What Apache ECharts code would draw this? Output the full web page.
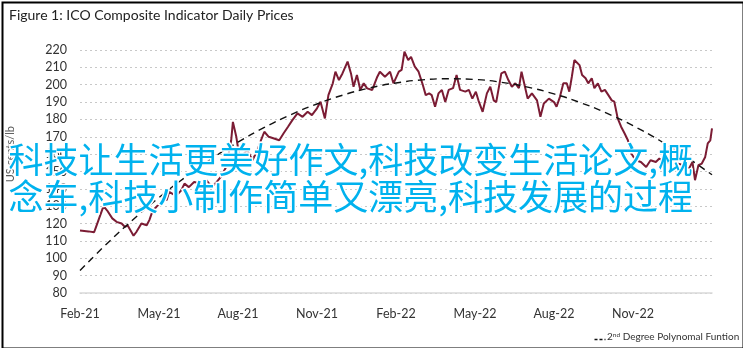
<!DOCTYPE html>
<html>
<head>
<meta charset="utf-8">
<script src="https://cdn.jsdelivr.net/npm/echarts@6/dist/echarts.min.js"></script>
<style>html,body{margin:0;padding:0;background:#fff}#c{width:743px;height:348px}</style>
</head>
<body>
<div id="c"></div>
<script>
const titleText = 'Figure 1: ICO Composite Indicator Daily Prices';
const yAxisName = 'US cents/lb';
const trendName = '2nd Degree Polynomal Funtion';
const overlayLine1 = '科技让生活更美好作文,科技改变生活论文,概';
const overlayLine2 = '念车,科技小制作简单又漂亮,科技发展的过程';
const monthNames = ['Jan','Feb','Mar','Apr','May','Jun','Jul','Aug','Sep','Oct','Nov','Dec'];

const priceDates = [
'2021-02-01','2021-02-10','2021-02-16','2021-02-18','2021-02-26','2021-03-02','2021-03-08','2021-03-13','2021-03-19','2021-03-23','2021-03-26',
'2021-04-02','2021-04-05','2021-04-11','2021-04-17','2021-04-20','2021-04-24','2021-04-28','2021-05-02','2021-05-06','2021-05-10','2021-05-13',
'2021-05-21','2021-05-27','2021-05-31','2021-06-05','2021-06-11','2021-06-19','2021-06-25','2021-07-01','2021-07-07','2021-07-12','2021-07-18',
'2021-07-24','2021-07-26','2021-07-30','2021-08-02','2021-08-06','2021-08-12','2021-08-18','2021-08-24','2021-08-28','2021-09-01','2021-09-06',
'2021-09-12','2021-09-18','2021-09-23','2021-09-28','2021-10-03','2021-10-09','2021-10-15','2021-10-21','2021-10-26','2021-11-01','2021-11-05',
'2021-11-10','2021-11-14','2021-11-19','2021-11-22','2021-11-26','2021-11-30','2021-12-06','2021-12-10','2021-12-13','2021-12-17','2021-12-21',
'2021-12-25','2021-12-29','2022-01-04','2022-01-10','2022-01-13','2022-01-19','2022-01-25','2022-01-29','2022-02-04','2022-02-07','2022-02-10',
'2022-02-14','2022-02-17','2022-02-21','2022-02-25','2022-03-01','2022-03-05','2022-03-09','2022-03-12','2022-03-16','2022-03-20','2022-03-24',
'2022-03-28','2022-04-01','2022-04-06','2022-04-10','2022-04-14','2022-04-20','2022-04-24','2022-04-28','2022-05-02','2022-05-05','2022-05-10',
'2022-05-15','2022-05-19','2022-05-23','2022-05-26','2022-06-01','2022-06-05','2022-06-09','2022-06-13','2022-06-17','2022-06-21','2022-06-24',
'2022-06-27','2022-07-01','2022-07-06','2022-07-12','2022-07-16','2022-07-20','2022-07-26','2022-08-01','2022-08-04','2022-08-08','2022-08-12',
'2022-08-16','2022-08-19','2022-08-22','2022-08-25','2022-08-27','2022-08-31','2022-09-03','2022-09-07','2022-09-10','2022-09-14','2022-09-17',
'2022-09-21','2022-09-25','2022-09-29','2022-10-03','2022-10-07','2022-10-10','2022-10-14','2022-10-18','2022-10-22','2022-10-26','2022-10-30',
'2022-11-04','2022-11-10','2022-11-16','2022-11-21','2022-11-27','2022-12-01','2022-12-07','2022-12-15','2022-12-22','2022-12-30','2023-01-05',
'2023-01-09','2023-01-12','2023-01-16','2023-01-20','2023-01-24','2023-01-27','2023-01-30','2023-02-01'
];
const priceValues = [
116,115.5,115,118,130,127.5,123,121,120,118,119,
113,115,120,119,122,127.7,129.6,131.7,134.6,133.5,138.3,
136,139,143,141,144,143,145,141,144,147,152.6,
168,178.6,170,160.5,159.4,162.3,156.5,162.3,168,172.9,170,
169,168,172,175.8,179.6,183.5,181.5,184.4,182.5,186.4,190.2,
180.6,194,200.8,207.5,202.7,206.5,213.3,206.5,198.8,205.6,197,
200.8,197.9,197,204.6,207.5,204.6,207.5,200.8,207.5,208.5,219,
214.2,216,210.4,207.5,200.8,194,195,194,187.3,195,197,
190,197,198,205.6,197,196,197,192,196,191,184.4,
195,198.8,191,190,206.5,207.5,202.7,198.8,200.8,198,207.5,
200.8,192,195,191,181.5,189.2,192,190,187.3,193,200.8,
200.8,196,204.6,214.2,214.2,211.3,205.6,203.7,200.8,203.7,198,
200.8,196,197,194,191,190.2,180.6,175.8,172,168,160.4,
156.5,155.5,152.6,156.5,155.5,157.5,155.5,154.6,154.6,153.6,151.7,
155.5,145,153.6,154.6,158.4,166.2,168,174.8
];

const trendMonths = [0,1,2,3,4,5,6,7,8,9,10,11,12,13,14,15,16,17,18,19,20,21,22,23,24];
const trendValues = [93,108.1,122.1,135,146.7,157.4,166.9,175.4,182.7,188.9,194.1,198.1,201,202.8,203.4,203,201.4,198.6,194.7,189.7,183.6,176.4,168,158.6,148.1];

const yTicks = {min: 80, max: 220, step: 10};
const xTicks = {min: 0, max: 24, step: 3};

function monthIndex(s) {
  const p = s.split('-').map(Number);
  const dim = new Date(p[0], p[1], 0).getDate();
  return (p[0] - 2021) * 12 + (p[1] - 2) + (p[2] - 1) / dim;
}

const chart = echarts.init(document.getElementById('c'), null, {renderer: 'canvas'});
const labelFont = 'Lato, "Liberation Sans", sans-serif';

chart.setOption({
  animation: false,
  backgroundColor: '#fff',
  title: {
    text: titleText, left: 4, top: 3,
    textStyle: {fontFamily: labelFont, fontSize: 14, fontWeight: 'normal', color: '#222'}
  },
  grid: {left: 80, right: 31, top: 50, bottom: 55, containLabel: false},
  xAxis: {
    type: 'value', min: xTicks.min, max: xTicks.max, interval: xTicks.step,
    axisLine: {show: true, lineStyle: {color: '#d9d9d9', width: 1.5}},
    axisTick: {show: false},
    splitLine: {show: false},
    axisLabel: {
      color: '#333', fontFamily: labelFont, fontSize: 12.5, margin: 14,
      showMaxLabel: false,
      formatter: function (v) {
        const mi = 1 + v;
        return monthNames[mi % 12] + '-' + (21 + Math.floor(mi / 12));
      }
    }
  },
  yAxis: {
    type: 'value', min: yTicks.min, max: yTicks.max, interval: yTicks.step,
    axisLine: {show: false}, axisTick: {show: false},
    splitLine: {lineStyle: {color: '#c8c8c8', type: [2, 3], width: 1}},
    axisLabel: {color: '#333', fontFamily: labelFont, fontSize: 12.5, margin: 13}
  },
  series: [
    {
      name: 'ICO Composite', type: 'line', showSymbol: false, symbol: 'none',
      data: priceDates.map((d, i) => [monthIndex(d), priceValues[i]]),
      lineStyle: {color: '#7b1c34', width: 2}, z: 3
    },
    {
      name: trendName, type: 'line', smooth: true, symbol: 'none',
      data: trendMonths.map((m, i) => [m, trendValues[i]]),
      lineStyle: {color: '#111', width: 1.4, type: [7, 5]}, itemStyle: {color: '#111'}, z: 4
    }
  ],
  graphic: [
    {
      type: 'text', left: 5, top: 126, rotation: Math.PI / 2, z: 10,
      style: {text: yAxisName, fill: '#595959', font: '11px Lato, sans-serif'}
    },
    {
      type: 'line', left: 592, top: 337, z: 20,
      shape: {x1: 0, y1: 0, x2: 11, y2: 0},
      style: {stroke: '#111', lineWidth: 1.4, lineDash: [3, 2]}
    },
    {
      type: 'text', left: 607, top: 331, z: 20,
      style: {
        text: '{n|2}{s|nd}{n| Degree Polynomal Funtion}',
        rich: {
          n: {fontSize: 10, fontFamily: 'Lato, sans-serif', fill: '#333'},
          s: {fontSize: 6.5, fontFamily: 'Lato, sans-serif', fill: '#333', padding: [0, 0, 5, 0]}
        }
      }
    },
    {
      type: 'text', left: 7, top: 141, z: 50,
      style: {text: overlayLine1, fill: '#00b2ee', stroke: '#fff', lineWidth: 3,
        font: '35px "Noto Sans CJK SC", sans-serif'}
    },
    {
      type: 'text', left: 7, top: 178, z: 50,
      style: {text: overlayLine2, fill: '#00b2ee', stroke: '#fff', lineWidth: 3,
        font: '35px "Noto Sans CJK SC", sans-serif'}
    },
    {
      type: 'rect', left: 0, top: 0, z: 60, silent: true,
      shape: {x: 1, y: 1, width: 741, height: 346},
      style: {fill: null, stroke: '#000', lineWidth: 2}
    }
  ]
});
</script>
</body>
</html>
